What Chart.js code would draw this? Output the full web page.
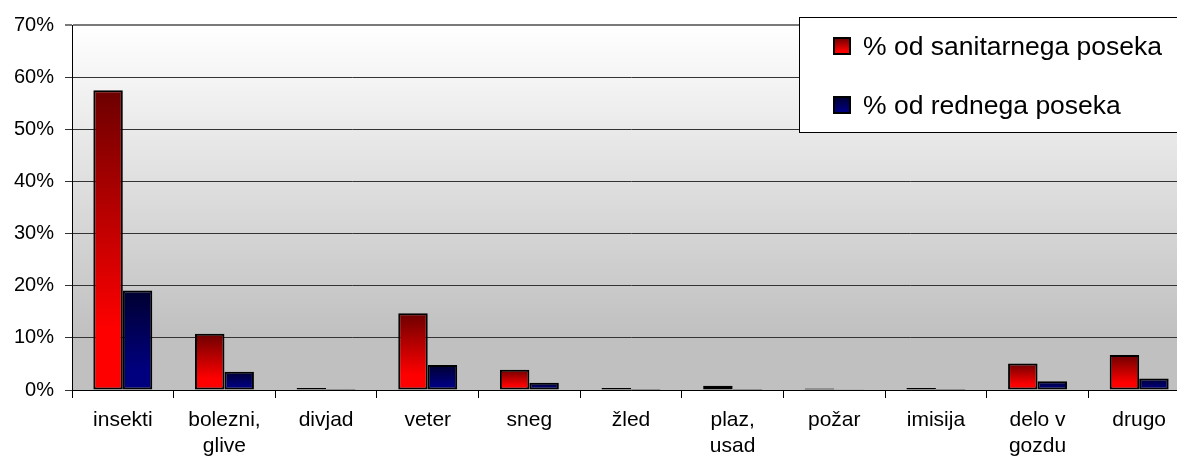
<!DOCTYPE html>
<html>
<head>
<meta charset="utf-8">
<script src="https://cdn.jsdelivr.net/npm/chart.js@4/dist/chart.umd.min.js"></script>
<style>
  html, body { margin: 0; padding: 0; background: #ffffff; overflow: hidden; }
  #wrap { width: 1195px; height: 458px; }
</style>
</head>
<body>
<div id="wrap"><canvas id="c" width="1195" height="458"></canvas></div>
<script>
const categories = [['insekti'], ['bolezni,', 'glive'], ['divjad'], ['veter'], ['sneg'], ['žled'], ['plaz,', 'usad'], ['požar'], ['imisija'], ['delo v', 'gozdu'], ['drugo']];
const seriesNames = ['% od sanitarnega poseka', '% od rednega poseka'];
const sanitarni = [57.5, 10.8, 0.4, 14.7, 3.9, 0.4, 0.8, 0.3, 0.4, 5.1, 6.7];
const redni = [19.1, 3.5, 0.2, 4.8, 1.4, 0.2, 0.2, 0.15, 0.2, 1.7, 2.2];
const yTicks = [0, 10, 20, 30, 40, 50, 60, 70];

const FONT = '"Liberation Sans", Arial, sans-serif';
const redDark = '#6c0000', redBright = '#ff0000';
const blueDark = '#000030', blueBright = '#00007e';

function barGrad(dark, bright) {
  return function (ctx) {
    const chart = ctx.chart;
    const ys = chart.scales && chart.scales.y;
    if (!ys || ctx.type !== 'data') return bright;
    const v = ctx.parsed ? ctx.parsed.y : ctx.raw;
    const top = ys.getPixelForValue(v);
    const base = ys.getPixelForValue(0);
    if (!isFinite(top) || !isFinite(base) || base - top < 2) return dark;
    const g = chart.ctx.createLinearGradient(0, top, 0, base);
    g.addColorStop(0, dark);
    g.addColorStop(0.8, bright);
    g.addColorStop(1, bright);
    return g;
  };
}

const bgPlugin = {
  id: 'plotBg',
  beforeDraw(chart) {
    const a = chart.chartArea;
    const c = chart.ctx;
    c.save();
    const g = c.createLinearGradient(0, a.top, 0, a.bottom);
    g.addColorStop(0, '#ffffff');
    g.addColorStop(0.85, '#c0c0c0');
    g.addColorStop(1, '#c0c0c0');
    c.fillStyle = g;
    c.fillRect(a.left, a.top, a.right - a.left, a.bottom - a.top);
    c.restore();
  }
};

const legendPlugin = {
  id: 'boxLegend',
  afterDraw(chart) {
    const c = chart.ctx;
    c.save();
    c.fillStyle = '#ffffff';
    c.fillRect(799.5, 17.5, 420, 115);
    c.strokeStyle = '#000000';
    c.lineWidth = 1;
    c.strokeRect(799.5, 17.5, 420, 115);
    const rows = [
      { y: 38, base: 55, dark: redDark, bright: redBright },
      { y: 97, base: 114, dark: blueDark, bright: blueBright }
    ];
    chart.data.datasets.forEach((ds, i) => {
      const r = rows[i];
      const g = c.createLinearGradient(0, r.y, 0, r.y + 17);
      g.addColorStop(0, r.dark);
      g.addColorStop(0.8, r.bright);
      g.addColorStop(1, r.bright);
      c.fillStyle = g;
      c.fillRect(834, r.y, 16, 16);
      c.lineWidth = 2;
      c.strokeStyle = '#000';
      c.strokeRect(834, r.y, 16, 16);
      c.fillStyle = '#000';
      c.font = '26.5px ' + FONT;
      c.textBaseline = 'alphabetic';
      c.textAlign = 'left';
      c.fillText(ds.label, 863, r.base);
    });
    c.restore();
  }
};

new Chart(document.getElementById('c'), {
  type: 'bar',
  data: {
    labels: categories,
    datasets: [
      { label: seriesNames[0], data: sanitarni, backgroundColor: barGrad(redDark, redBright),
        borderColor: '#000', borderWidth: 2, borderSkipped: false },
      { label: seriesNames[1], data: redni, backgroundColor: barGrad(blueDark, blueBright),
        borderColor: '#000', borderWidth: 2, borderSkipped: false }
    ]
  },
  options: {
    responsive: false,
    animation: false,
    devicePixelRatio: 1,
    datasets: { bar: { categoryPercentage: 0.58, barPercentage: 1.0 } },
    layout: { padding: { left: 0, right: 5, top: 25, bottom: 0 } },
    plugins: { legend: { display: false }, tooltip: { enabled: false } },
    scales: {
      x: {
        offset: true,
        grid: { drawOnChartArea: false, drawTicks: true, tickLength: 8, color: '#000', offset: true },
        border: { color: '#000', width: 1 },
        ticks: { color: '#000', font: { family: FONT, size: 21, lineHeight: 1.2 }, padding: 10,
                 maxRotation: 0, autoSkip: false },
        afterFit(scale) { scale.height = 68; }
      },
      y: {
        min: 0, max: 70,
        afterBuildTicks(scale) { scale.ticks = yTicks.map(v => ({ value: v })); },
        grid: {
          color: (ctx) => (ctx.tick && ctx.tick.value === 70) ? '#7a7a7a' : '#333333',
          lineWidth: (ctx) => (ctx.tick && ctx.tick.value === 70) ? 2 : 1,
          tickLength: 7, drawTicks: true
        },
        border: { color: '#000', width: 1 },
        ticks: { color: '#000', font: { family: FONT, size: 20 }, padding: 11,
                 callback: (v) => v + '%' },
        afterFit(scale) { scale.width = 72; }
      }
    }
  },
  plugins: [bgPlugin, legendPlugin]
});
</script>
</body>
</html>
